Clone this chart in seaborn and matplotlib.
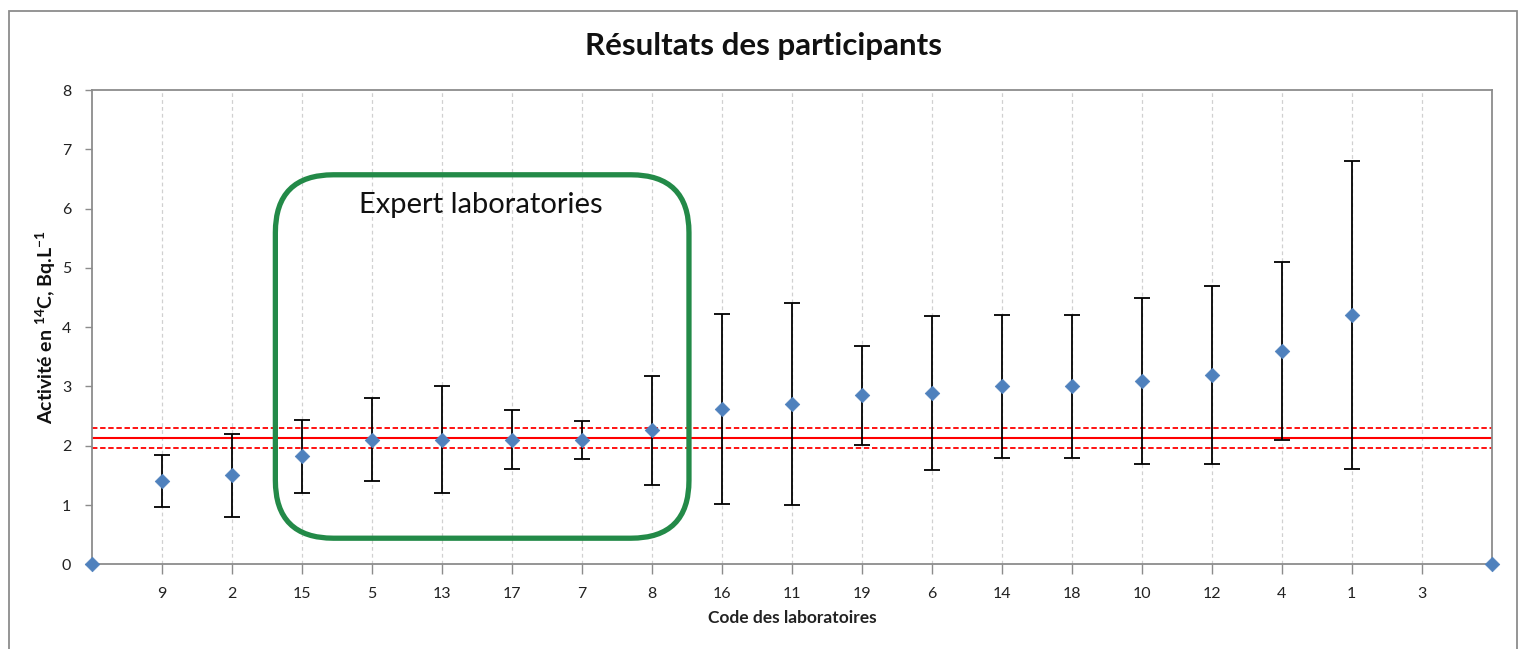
import numpy as np
import pandas as pd
import matplotlib
matplotlib.use("Agg")
import matplotlib.pyplot as plt
import seaborn as sns
from matplotlib.patches import FancyBboxPatch, Rectangle

# ---- data ----
lab_codes = ["9", "2", "15", "5", "13", "17", "7", "8", "16", "11", "19", "6", "14", "18", "10", "12", "4", "1", "3"]
activity = [1.40, 1.50, 1.82, 2.10, 2.10, 2.10, 2.10, 2.26, 2.62, 2.70, 2.85, 2.89, 3.00, 3.00, 3.10, 3.20, 3.60, 4.20, np.nan]
uncertainty = [0.44, 0.70, 0.62, 0.70, 0.90, 0.50, 0.32, 0.92, 1.60, 1.70, 0.83, 1.30, 1.20, 1.20, 1.40, 1.50, 1.50, 2.60, np.nan]
anchor_x = [0, 20]
anchor_y = [0, 0]
ref_value = 2.13
ref_unc = 0.17

sns.set_style("white")
plt.rcParams['font.family'] = ['Lato', 'DejaVu Sans']
plt.rcParams['mathtext.fontset'] = 'custom'
plt.rcParams['mathtext.bf'] = 'Lato:bold'
plt.rcParams['mathtext.rm'] = 'Lato'

W, H = 1519, 649
fig = plt.figure(figsize=(W / 100, H / 100), dpi=100)
ax = fig.add_axes([92 / W, 1 - 564.3 / H, (1491.7 - 92) / W, (564.3 - 90) / H])

pos = np.arange(1, len(lab_codes) + 1)
df = pd.DataFrame({"pos": pos, "activity": activity, "unc": uncertainty, "code": lab_codes})

# vertical dashed gridlines
for p in pos:
    ax.axvline(p, color="#D0D0D0", lw=0.9, ls=(0, (3, 2.5)), zorder=0)

# reference lines
ax.axhline(ref_value, color="#FF0000", lw=1.5, zorder=2)
ax.axhline(ref_value + ref_unc, color="#FF0000", lw=1.3, ls=(0, (3, 1.5)), zorder=2)
ax.axhline(ref_value - ref_unc, color="#FF0000", lw=1.3, ls=(0, (3, 1.5)), zorder=2)

# error bars
d = df.dropna()
ax.errorbar(d["pos"], d["activity"], yerr=d["unc"], fmt="none", ecolor="black",
            elinewidth=1.3, capsize=5.5, capthick=1.3, zorder=3)

# points
sns.scatterplot(data=df.dropna(), x="pos", y="activity", marker="D", s=55,
                color="#4F81BD", edgecolor="#4F81BD", linewidth=0.5, ax=ax, zorder=4, legend=False)
sns.scatterplot(x=anchor_x, y=anchor_y, marker="D", s=55, color="#4F81BD",
                edgecolor="#4F81BD", linewidth=0.5, ax=ax, zorder=5, clip_on=False, legend=False)

ax.set_xlim(0, 20)
ax.set_ylim(0, 8)
ax.set_xticks(pos)
ax.set_xticklabels(lab_codes)
ax.set_yticks(range(0, 9))
ax.tick_params(axis="x", direction="out", length=7, width=1, color="#8C8C8C",
               labelsize=11.5, labelcolor="#222222", pad=9, bottom=True)
ax.tick_params(axis="y", direction="out", length=5, width=1, color="#8C8C8C",
               labelsize=11.5, labelcolor="#222222", pad=10, left=True)
for s in ax.spines.values():
    s.set_color("#8C8C8C")
    s.set_linewidth(1.3)

ax.set_xlabel("Code des laboratoires", fontsize=12.5, fontweight="bold", color="#222222", labelpad=7)
ax.set_ylabel(r"Activité en $^{\mathbf{14}}$C, Bq.L$^{\mathbf{-1}}$", fontsize=14,
              fontweight="bold", color="#111111", labelpad=3)

fig.text(763 / W, 1 - 46 / H, "Résultats des participants", fontsize=22.5, fontweight="bold",
         ha="center", va="center", color="#111111")

# expert laboratories box
box = FancyBboxPatch((2.62, 0.44), 8.53 - 2.62, 6.57 - 0.44,
                     boxstyle="round,pad=0,rounding_size=0.83", mutation_aspect=1.175,
                     fill=False, edgecolor="#238A48", lw=3.8, zorder=6, transform=ax.transData)
ax.add_patch(box)
ax.text(5.56, 6.06, "Expert laboratories", fontsize=21, ha="center", va="center",
        color="#111111", zorder=7)

# outer chart border
border = Rectangle((9 / W, -0.05), (1517 - 9) / W, (H - 11) / H + 0.05, transform=fig.transFigure,
                   fill=False, edgecolor="#8C8C8C", lw=1.3, clip_on=False)
fig.patches.append(border)

fig.savefig("out.png", dpi=100)
